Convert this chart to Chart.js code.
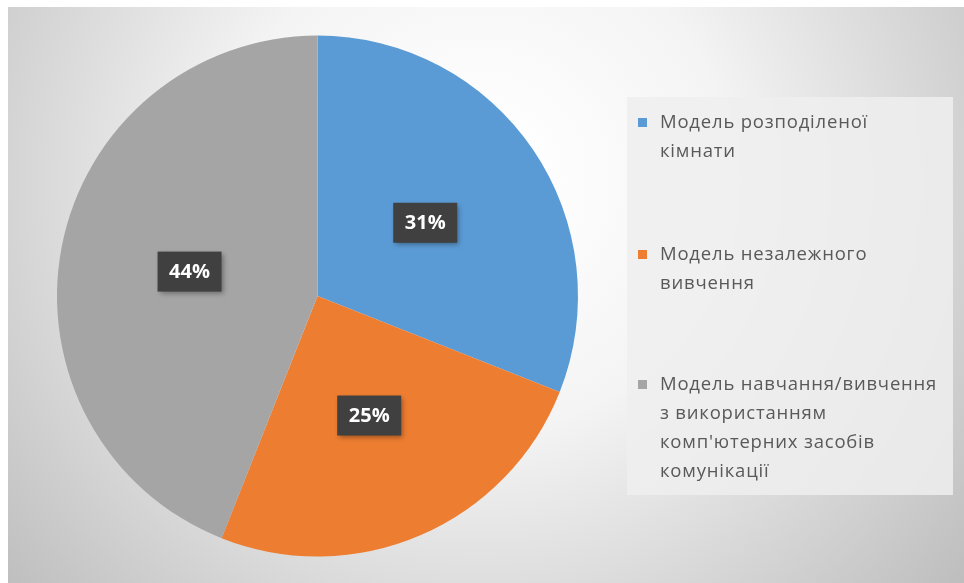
<!DOCTYPE html>
<html>
<head>
<meta charset="utf-8">
<script src="https://cdn.jsdelivr.net/npm/chart.js@4"></script>
<style>
  html, body { margin: 0; padding: 0; background: #fff; }
  #wrap { width: 964px; height: 583px; }
</style>
</head>
<body>
<div id="wrap"><canvas id="myChart" width="964" height="583"></canvas></div>
<script>
// data
const categories = [
  ["Модель розподіленої", "кімнати"],
  ["Модель незалежного", "вивчення"],
  ["Модель навчання/вивчення", "з використанням", "комп'ютерних засобів", "комунікації"]
];
const shares = [31, 25, 44];
const sliceColors = ["#5B9BD5", "#ED7D31", "#A5A5A5"];

// background, data labels and legend box, drawn on the canvas
const decor = {
  id: "decor",
  beforeDraw(chart) {
    const ctx = chart.ctx;
    ctx.save();
    ctx.fillStyle = "#ffffff";
    ctx.fillRect(0, 0, chart.width, chart.height);
    const g = ctx.createRadialGradient(480, 180, 40, 480, 180, 640);
    g.addColorStop(0, "#ffffff");
    g.addColorStop(0.35, "#f4f4f4");
    g.addColorStop(1, "#bcbcbc");
    ctx.fillStyle = g;
    ctx.fillRect(8, 7, chart.width - 8, chart.height - 7);
    ctx.restore();
  },
  afterDraw(chart) {
    const ctx = chart.ctx;
    const meta = chart.getDatasetMeta(0);
    ctx.save();
    // percent labels
    ctx.font = "bold 20px 'Open Sans'";
    ctx.textAlign = "center";
    ctx.textBaseline = "middle";
    meta.data.forEach((arc, i) => {
      const mid = (arc.startAngle + arc.endAngle) / 2;
      const r = arc.outerRadius * 0.5;
      const x = arc.x + Math.cos(mid) * r;
      const y = arc.y + Math.sin(mid) * r;
      const w = 64, h = 40;
      ctx.shadowColor = "rgba(0,0,0,0.35)";
      ctx.shadowBlur = 5;
      ctx.shadowOffsetX = 2;
      ctx.shadowOffsetY = 2;
      ctx.fillStyle = "#404040";
      ctx.fillRect(x - w / 2, y - h / 2, w, h);
      ctx.shadowColor = "transparent";
      ctx.fillStyle = "#ffffff";
      ctx.fillText(shares[i] + "%", x, y + 1);
    });

    // legend
    ctx.fillStyle = "rgba(238,238,238,0.85)";
    ctx.fillRect(627, 97, 326, 398);
    ctx.font = "18.5px 'Open Sans'";
    ctx.letterSpacing = "0.8px";
    ctx.textAlign = "left";
    const tops = [123, 255, 385];
    categories.forEach((lines, i) => {
      ctx.fillStyle = sliceColors[i];
      ctx.fillRect(638, tops[i] - 5, 9, 9);
      ctx.fillStyle = "#595959";
      lines.forEach((t, j) => ctx.fillText(t, 660, tops[i] + j * 29));
    });
    ctx.restore();
  }
};

const config = {
  type: "pie",
  data: {
    labels: categories.map(l => l.join(" ")),
    datasets: [{
      data: shares,
      backgroundColor: sliceColors,
      borderWidth: 0
    }]
  },
  options: {
    responsive: false,
    animation: false,
    rotation: 0,
    layout: { padding: { left: 57, right: 386, top: 35, bottom: 26 } },
    plugins: {
      legend: { display: false },
      tooltip: { enabled: false }
    }
  },
  plugins: [decor]
};

const myChart = new Chart(document.getElementById("myChart").getContext("2d"), config);
</script>
</body>
</html>
